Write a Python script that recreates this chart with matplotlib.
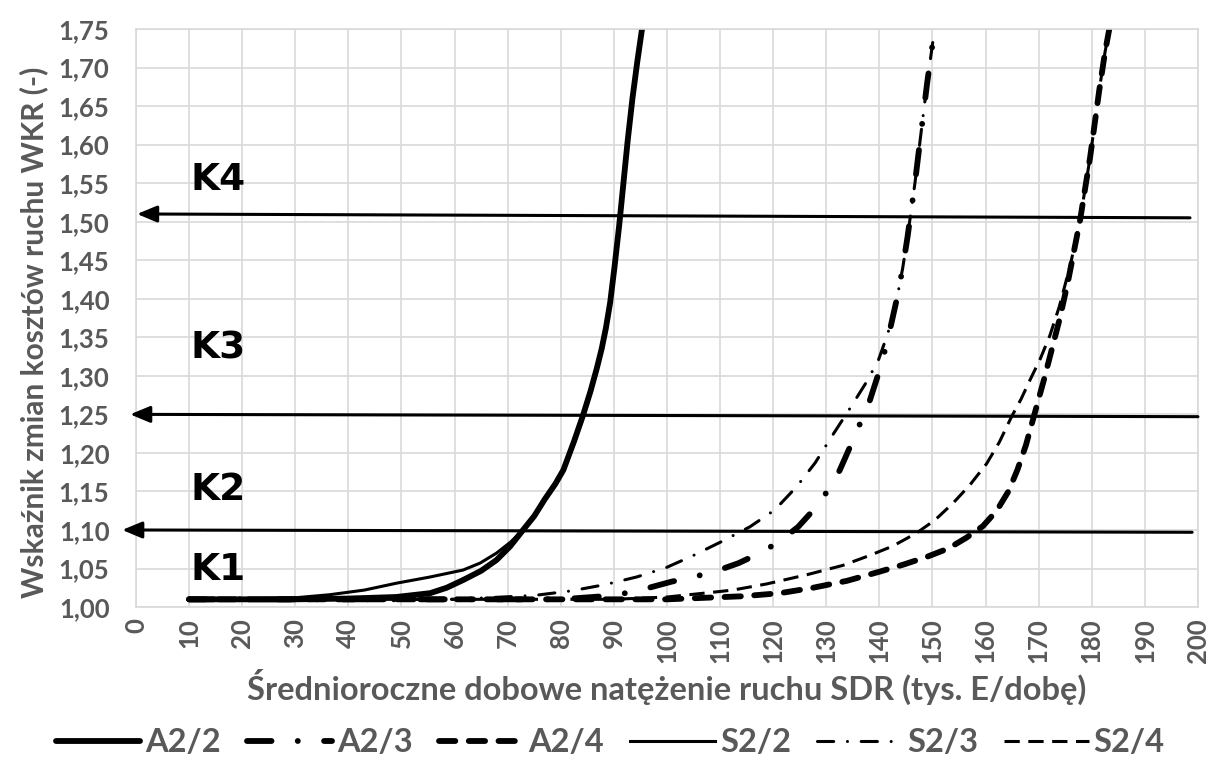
import numpy as np
import matplotlib.pyplot as plt
from matplotlib.ticker import MultipleLocator, FuncFormatter

# dane (SDR w tys. E/dobe, WKR)
x_a22 = [10, 30, 40, 49, 55.4, 58.5, 61.6, 65, 67.9, 70.5, 72.9, 75, 77, 79, 80.5, 82.5, 84.2, 85.6,
         86.8, 87.7, 88.5, 89.3, 90.1, 91.0, 91.8, 92.6, 93.5, 94.4, 95.3]
y_a22 = [1.01, 1.01, 1.011, 1.013, 1.018, 1.025, 1.035, 1.047, 1.061, 1.079, 1.10, 1.118, 1.14, 1.16, 1.178, 1.215, 1.249, 1.28,
         1.31, 1.335, 1.362, 1.395, 1.44, 1.495, 1.55, 1.605, 1.66, 1.707, 1.75]

x_s22 = [10, 25, 30, 36.5, 43, 49.1, 55.4, 61.6, 64.8, 67.9, 70.5, 72.9, 75, 77, 79, 80.5, 82.5, 84.2, 85.6,
         86.8, 87.7, 88.5, 89.3, 90.1, 91.0, 91.8, 92.6, 93.5, 94.4, 95.3]
y_s22 = [1.01, 1.011, 1.012, 1.016, 1.022, 1.031, 1.039, 1.048, 1.057, 1.07, 1.084, 1.10, 1.118, 1.14, 1.16, 1.178, 1.215, 1.249, 1.28,
         1.31, 1.335, 1.362, 1.395, 1.44, 1.495, 1.55, 1.605, 1.66, 1.707, 1.75]

x_a23 = [10, 80, 90, 95, 100.9, 105, 109.4, 113.5, 117.5, 121.2, 124.7, 127.6, 130.4, 132.5, 134.3, 136.8, 138.2,
         140.4, 142.0, 143.3, 144.4, 145.3, 146.0, 146.7, 147.4, 148.2, 149.0, 149.8, 150.4]
y_a23 = [1.01, 1.01, 1.015, 1.022, 1.033, 1.039, 1.047, 1.057, 1.070, 1.085, 1.104, 1.126, 1.152, 1.177, 1.205, 1.245, 1.268,
         1.315, 1.36, 1.40, 1.44, 1.48, 1.515, 1.55, 1.59, 1.635, 1.68, 1.72, 1.75]

x_s23 = [10, 60, 75, 82, 88.3, 94.3, 99.8, 105, 110.3, 115.6, 120.3, 124.4, 127.9, 131, 134.3, 137.4, 139.8, 141.6,
         143.3, 144.4, 145.3, 146.0, 146.7, 147.4, 148.2, 149.0, 149.8, 150.4]
y_s23 = [1.01, 1.01, 1.015, 1.021, 1.029, 1.039, 1.051, 1.067, 1.085, 1.104, 1.126, 1.156, 1.187, 1.221, 1.256, 1.29, 1.32, 1.355,
         1.40, 1.44, 1.48, 1.515, 1.55, 1.59, 1.635, 1.68, 1.72, 1.75]

x_a24 = [10, 100, 114.3, 121.3, 127.5, 133.9, 140.1, 144.5, 148.9, 153, 156.4, 159.5, 162.1, 164.3, 166, 167.6, 169.4,
         171, 172.5, 174, 175.6, 177.8, 179.7, 181.4, 182.5, 183.3]
y_a24 = [1.01, 1.01, 1.014, 1.018, 1.025, 1.034, 1.046, 1.055, 1.065, 1.076, 1.09, 1.105, 1.125, 1.15, 1.178, 1.21, 1.255,
         1.295, 1.335, 1.375, 1.425, 1.502, 1.584, 1.67, 1.72, 1.75]

x_s24 = [10, 90, 100, 107, 112.4, 118.8, 126.4, 133.1, 138.2, 142.5, 147, 150.5, 153.9, 157, 160.2, 162.6, 164.9, 166.7,
         168.4, 170.3, 172.1, 173.9, 176, 177.8, 179.7, 181.4, 182.5, 183.3]
y_s24 = [1.01, 1.01, 1.013, 1.018, 1.022, 1.03, 1.042, 1.054, 1.067, 1.079, 1.096, 1.113, 1.135, 1.158, 1.186, 1.214, 1.247, 1.27,
         1.295, 1.322, 1.352, 1.39, 1.445, 1.502, 1.584, 1.67, 1.72, 1.75]

# progi klas (strzalki) i etykiety
progi = [1.51, 1.25, 1.10]
progi_prawy = [1.505, 1.247, 1.097]
progi_x_grot = [0.2, -1.1, -2.6]
progi_x_koniec = [198.5, 200, 198.9]
klasy = ['K4', 'K3', 'K2', 'K1']
klasy_y = [1.554, 1.336, 1.152, 1.048]

szary = '#595959'
plt.rcParams['font.family'] = ['Lato', 'DejaVu Sans']

fig = plt.figure(figsize=(12.13, 7.73), dpi=100)
ax = fig.add_axes([0.1121, 0.2147, 0.8755, 0.7478])

gruba = 4.2
cienka = 2.2
ax.plot(x_a22, y_a22, color='black', lw=gruba, solid_capstyle='round', label='A2/2')
ax.plot(x_a23, y_a23, color='black', lw=gruba, dashes=(4.2, 4.5, 0.01, 4.5),
        dash_capstyle='round', label='A2/3')
ax.plot(x_a24, y_a24, color='black', lw=gruba, dashes=(2.8, 2.3), dash_capstyle='round', label='A2/4')
ax.plot(x_s22, y_s22, color='black', lw=cienka, label='S2/2')
ax.plot(x_s23, y_s23, color='black', lw=cienka, dashes=(5.3, 4.5, 0.01, 4.5),
        dash_capstyle='round', label='S2/3')
ax.plot(x_s24, y_s24, color='black', lw=cienka, dashes=(5, 2.8), label='S2/4')

for y0, y1, xg, xk in zip(progi, progi_prawy, progi_x_grot, progi_x_koniec):
    ax.annotate('', xy=(xg, y0), xytext=(xk, y1), annotation_clip=False,
                arrowprops=dict(arrowstyle='-|>,head_length=0.6,head_width=0.25',
                                mutation_scale=20, color='black', lw=2.2,
                                shrinkA=0, shrinkB=0))

for k, yk in zip(klasy, klasy_y):
    ax.text(10.2, yk, k, fontsize=27, fontweight='heavy', family='DejaVu Sans',
            va='center', ha='left', color='black')

ax.set_xlim(0, 200)
ax.set_ylim(1.0, 1.75)
ax.xaxis.set_major_locator(MultipleLocator(10))
ax.yaxis.set_major_locator(MultipleLocator(0.05))
ax.yaxis.set_major_formatter(FuncFormatter(lambda v, p: f'{v:.2f}'.replace('.', ',')))
ax.xaxis.set_major_formatter(FuncFormatter(lambda v, p: f'{v:.0f}'))
ax.grid(True, color='#d9d9d9', lw=1.2)
ax.set_axisbelow(True)
for s in ax.spines.values():
    s.set_color('#d9d9d9')
    s.set_linewidth(1.2)
ax.tick_params(axis='both', length=0, labelsize=18.5, labelcolor=szary)
ax.tick_params(axis='y', pad=19)
ax.tick_params(axis='x', pad=8, labelrotation=90)
for t in ax.get_xticklabels() + ax.get_yticklabels():
    t.set_fontweight('bold')

ax.set_xlabel('Średnioroczne dobowe natężenie ruchu SDR (tys. E/dobę)',
              fontsize=23.5, fontweight='bold', color=szary, labelpad=4)
ax.set_ylabel('Wskaźnik zmian kosztów ruchu WKR (-)',
              fontsize=21.5, fontweight='bold', color=szary)
ax.yaxis.set_label_coords(-0.083, 0.475)

leg = fig.legend(loc='center', bbox_to_anchor=(0.503, 0.039), ncol=6, frameon=False,
                 fontsize=23.5, handlelength=2.6, handletextpad=0.15, columnspacing=0.8)
for t in leg.get_texts():
    t.set_color(szary)
    t.set_fontweight('bold')

fig.savefig('out.png', dpi=100)
